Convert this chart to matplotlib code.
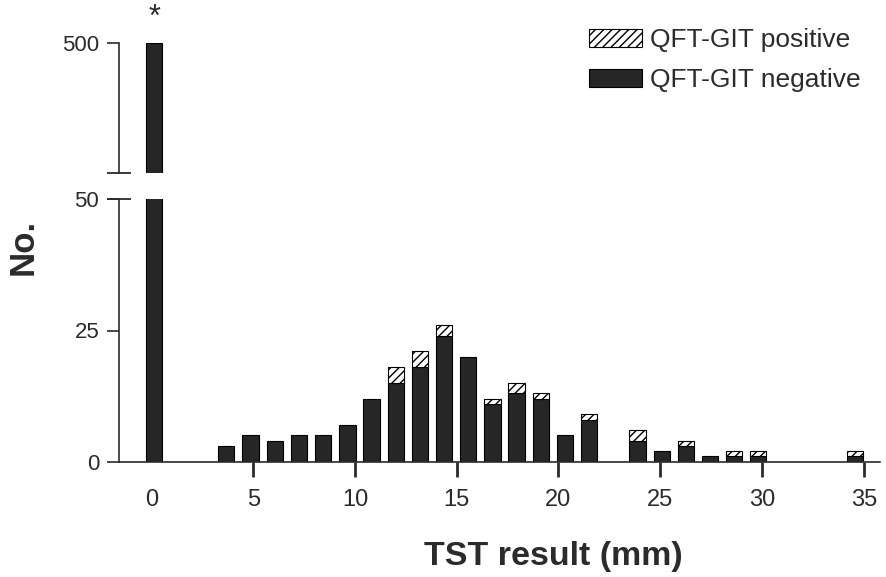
import numpy as np
import matplotlib
matplotlib.use("Agg")
from matplotlib import pyplot as plt
from matplotlib.patches import Patch

plt.rcParams["font.family"] = ["Liberation Sans", "DejaVu Sans"]
plt.rcParams["hatch.linewidth"] = 1.0

# TST bins (mm) and counts per QFT-GIT result
tst_mm = [0.14, 3.68, 4.87, 6.06, 7.25, 8.44, 9.63, 10.81, 12.0, 13.19, 14.38,
          15.57, 16.76, 17.94, 19.13, 20.32, 21.51, 23.88, 25.07, 26.26,
          27.45, 28.64, 29.82, 34.57]
qft_negative = [500, 3, 5, 4, 5, 5, 7, 12, 15, 18, 24, 20, 11, 13, 12, 5, 8,
                4, 2, 3, 1, 1, 1, 1]
qft_positive = [0, 0, 0, 0, 0, 0, 0, 0, 3, 3, 2, 0, 1, 2, 1, 0, 1,
                2, 0, 1, 0, 1, 1, 1]
x_ticks = [0, 5, 10, 15, 20, 25, 30, 35]
lower_ticks = [0, 25, 50]
upper_ticks = [500]

BAR = "#262626"
INK = "#2b2b2b"
width = 0.8

fig = plt.figure(figsize=(8.87, 5.77), dpi=100)
W, H = 887, 577
left, right = 118.7, 880
ax_lo = fig.add_axes([left / W, 1 - 461.7 / H, (right - left) / W, (461.7 - 199.3) / H])
ax_hi = fig.add_axes([left / W, 1 - 173.3 / H, (right - left) / W, (173.3 - 42.7) / H],
                     sharex=ax_lo)

neg = np.array(qft_negative)
pos = np.array(qft_positive)
x = np.array(tst_mm)
has_pos = pos > 0

for ax in (ax_lo, ax_hi):
    ax.bar(x, neg, width=width, color=BAR, edgecolor="black", linewidth=0.8)
    ax.bar(x[has_pos], pos[has_pos], bottom=neg[has_pos], width=width,
           color="white", edgecolor="black", linewidth=0.8, hatch="////")
    ax.spines["top"].set_visible(False)
    ax.spines["right"].set_visible(False)
    ax.spines["left"].set_linewidth(1.2)
    ax.spines["left"].set_color(INK)
    ax.tick_params(axis="y", length=9, width=1.2, color=INK, labelsize=16,
                   labelcolor=INK, pad=5)

ax_lo.set_xlim(-1.61, 35.8)
ax_lo.set_ylim(0, 50)
ax_lo.set_yticks(lower_ticks)
ax_lo.spines["bottom"].set_linewidth(1.2)
ax_lo.spines["bottom"].set_color(INK)
ax_lo.set_xticks(x_ticks)
ax_lo.tick_params(axis="x", length=11, width=2, color=INK, labelsize=17,
                  labelcolor=INK, pad=9)
ax_lo.xaxis.get_major_ticks()[0].tick1line.set_visible(False)

ax_hi.set_ylim(450, 500)
ax_hi.set_yticks(upper_ticks)
ax_hi.spines["bottom"].set_visible(False)
ax_hi.tick_params(axis="x", bottom=False, labelbottom=False)

# break marks on the y spine
ax_hi.plot([0], [0], marker="_", markersize=17, mew=1.3, color=INK,
           transform=ax_hi.transAxes, clip_on=False)
ax_lo.plot([0], [1], marker="_", markersize=17, mew=1.3, color=INK,
           transform=ax_lo.transAxes, clip_on=False)

ax_hi.annotate("*", (tst_mm[0], 500), xytext=(0, 12), textcoords="offset points",
               ha="center", va="baseline", fontsize=22, color=INK)

ax_lo.set_xlabel("TST result (mm)", fontsize=24.5, fontweight="bold", color=INK,
                 va="center")
ax_lo.xaxis.set_label_coords(0.5705, -0.3594)
ax_lo.set_ylabel("No.", fontsize=25, fontweight="bold", color=INK,
                 ha="center", va="center")
ax_lo.yaxis.set_label_coords(-0.1257, 0.818)

handles = [Patch(facecolor="white", edgecolor="black", hatch="////", linewidth=0.8),
           Patch(facecolor=BAR, edgecolor="black", linewidth=0.8)]
fig.legend(handles, ["QFT-GIT positive", "QFT-GIT negative"], loc="upper left",
           bbox_to_anchor=(589 / W, 1 - 28 / H), frameon=False, fontsize=19,
           handlelength=2.0, handleheight=0.7, handletextpad=0.3,
           labelspacing=0.62, borderpad=0, borderaxespad=0, labelcolor=INK)

fig.savefig("out.png", dpi=100)
